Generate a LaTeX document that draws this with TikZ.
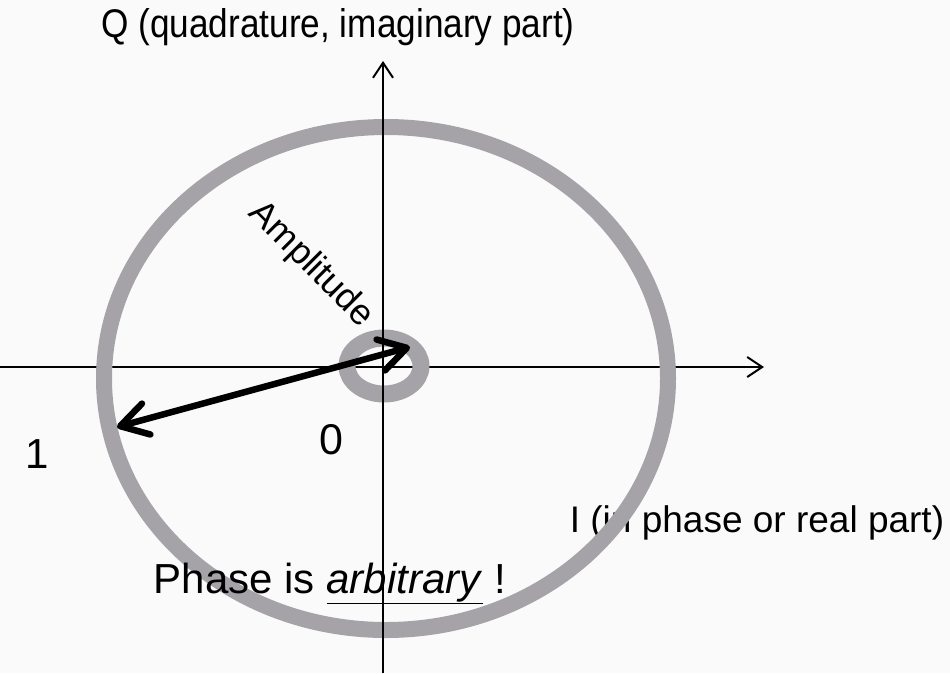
\documentclass[tikz,border=0pt]{standalone}
\usepackage{fontspec}
\setmainfont{Liberation Sans}
\newfontfamily\narrowsans{Liberation Sans}[FakeStretch=0.88]
\usetikzlibrary{arrows.meta}
\definecolor{ringgray}{RGB}{165,163,168}
\definecolor{paper}{RGB}{250,250,250}

\begin{document}
\begin{tikzpicture}[x=1pt,y=-1pt,
    axis/.style={line width=2pt,-{Straight Barb[length=15pt,width=20pt]}},
    ring/.style={ringgray,line width=16pt},
    phasor/.style={line width=6.5pt,
      {Straight Barb[length=27pt,width=32pt,round]}-{Straight Barb[length=27pt,width=32pt,round]}},
    lbl/.style={inner sep=0pt,font=\fontsize{#1}{#1}\selectfont}]
  % page
  \fill[paper] (0,0) rectangle (950,673);
  \useasboundingbox (0,0) rectangle (950,673);

  % axes ends
  \coordinate (west) at (0,367);
  \coordinate (east) at (764,367);
  \coordinate (south) at (383,673);
  \coordinate (north) at (383,61);

  % texts under the ring
  \node[inner sep=0pt,anchor=base,font=\narrowsans\fontsize{40}{40}\selectfont] (qlabel) at (338,37) {Q (quadrature, imaginary part)};
  \node[lbl=37,anchor=base] (ilabel) at (757,532) {I (in phase or real part)};

  \draw[axis] (west) -- (east);

  % the two rings
  \draw[ring] (386,378.5) ellipse [x radius=282pt,y radius=251.5pt];
  \draw[ring,line width=17pt] (384,366) ellipse [x radius=37pt,y radius=28pt];

  \draw[axis] (south) -- (north);

  % phasor
  \coordinate (tipone) at (117,427);
  \coordinate (tipzero) at (410,347);
  \draw[phasor] (tipone) -- (tipzero);

  \node[lbl=36,rotate=-45] (amp) at (311,265) {Amplitude};
  \node[lbl=42] (one) at (37,454) {1};
  \node[lbl=43] (zero) at (331,440) {0};
  \node[lbl=42,anchor=base] (phase) at (330,593) {Phase is \underline{\textit{arbitrary}} !};
\end{tikzpicture}
\end{document}
